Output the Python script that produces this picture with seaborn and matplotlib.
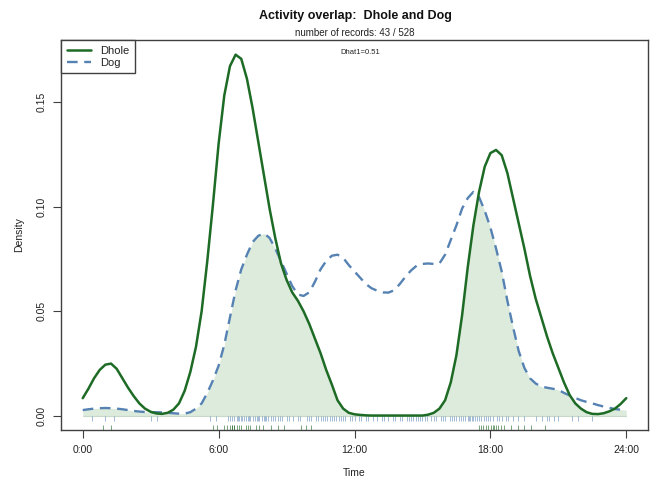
import numpy as np
import pandas as pd
import matplotlib
matplotlib.use("Agg")
import matplotlib.pyplot as plt
import seaborn as sns

# ---- data (quarter-hour grid) ----
hours = [0.0, 0.25, 0.5, 0.75, 1.0, 1.25, 1.5, 1.75, 2.0, 2.25, 2.5, 2.75,
         3.0, 3.25, 3.5, 3.75, 4.0, 4.25, 4.5, 4.75, 5.0, 5.25, 5.5, 5.75,
         6.0, 6.25, 6.5, 6.75, 7.0, 7.25, 7.5, 7.75, 8.0, 8.25, 8.5, 8.75,
         9.0, 9.25, 9.5, 9.75, 10.0, 10.25, 10.5, 10.75, 11.0, 11.25, 11.5, 11.75,
         12.0, 12.25, 12.5, 12.75, 13.0, 13.25, 13.5, 13.75, 14.0, 14.25, 14.5, 14.75,
         15.0, 15.25, 15.5, 15.75, 16.0, 16.25, 16.5, 16.75, 17.0, 17.25, 17.5, 17.75,
         18.0, 18.25, 18.5, 18.75, 19.0, 19.25, 19.5, 19.75, 20.0, 20.25, 20.5, 20.75,
         21.0, 21.25, 21.5, 21.75, 22.0, 22.25, 22.5, 22.75, 23.0, 23.25, 23.5, 23.75,
         24.0]
dhole_density = [0.0085, 0.013, 0.018, 0.022, 0.0245, 0.025, 0.0225, 0.018, 0.0135,
                 0.0095, 0.006, 0.0035, 0.002, 0.0012, 0.001, 0.0015, 0.003, 0.006,
                 0.012, 0.021, 0.033, 0.050, 0.074, 0.101, 0.130, 0.153, 0.167, 0.1725,
                 0.1705, 0.161, 0.147, 0.131, 0.115, 0.099, 0.085, 0.073, 0.065, 0.059,
                 0.055, 0.050, 0.044, 0.037, 0.030, 0.022, 0.015, 0.0075, 0.0035, 0.0015,
                 0.0008, 0.0005, 0.0003, 0.0002, 0.0002, 0.0002, 0.0002, 0.0002, 0.0002,
                 0.0002, 0.0002, 0.0002, 0.0002, 0.0006, 0.0015, 0.0035, 0.0075, 0.016,
                 0.029, 0.048, 0.071, 0.091, 0.107, 0.119, 0.1255, 0.127, 0.1245, 0.116,
                 0.104, 0.092, 0.080, 0.067, 0.056, 0.047, 0.038, 0.030, 0.023, 0.016,
                 0.010, 0.006, 0.0035, 0.0018, 0.0010, 0.0009, 0.0013, 0.0022, 0.0035,
                 0.0057, 0.0085]
dog_density = [0.0028, 0.0032, 0.0035, 0.0037, 0.0038, 0.0037, 0.0035, 0.0032, 0.0028,
               0.0024, 0.0021, 0.0019, 0.0018, 0.0018, 0.0017, 0.0015, 0.0013, 0.0011,
               0.0011, 0.0018, 0.0035, 0.006, 0.011, 0.017, 0.024, 0.034, 0.047, 0.060,
               0.070, 0.077, 0.083, 0.086, 0.0872, 0.085, 0.080, 0.074, 0.068, 0.062,
               0.058, 0.0573, 0.059, 0.064, 0.070, 0.074, 0.0765, 0.077, 0.0755, 0.072,
               0.069, 0.066, 0.063, 0.061, 0.0598, 0.059, 0.0589, 0.060, 0.063, 0.0665,
               0.0695, 0.0718, 0.0726, 0.0728, 0.0726, 0.0728, 0.077, 0.084, 0.091,
               0.099, 0.104, 0.107, 0.1045, 0.098, 0.090, 0.080, 0.069, 0.055, 0.0425,
               0.031, 0.023, 0.018, 0.0155, 0.014, 0.0135, 0.013, 0.0125, 0.011, 0.0098,
               0.0086, 0.0075, 0.0067, 0.006, 0.0052, 0.0045, 0.0039, 0.0033, 0.003,
               0.0028]

dhole_records = [0.91, 1.24, 5.77, 5.92, 6.22, 6.39, 6.61, 6.61, 6.66, 6.7, 7.2, 7.31,
                 7.65, 7.79, 7.94, 8.31, 8.6, 8.9, 9.63, 9.85, 10.1, 6.5, 6.9, 7.0,
                 17.59, 17.69, 17.81, 18.03, 18.18, 18.33, 18.47, 18.92, 19.21, 19.5,
                 19.8, 20.39, 17.9, 18.1, 18.25, 6.8, 7.4, 18.6, 17.5]
dog_records = [0.4, 1.0, 1.4, 3.0, 3.3, 5.6, 5.9,
               6.4, 6.5, 6.6, 6.7, 6.8, 6.85, 6.9, 7.0, 7.05, 7.1, 7.2, 7.3, 7.35, 7.4,
               7.5, 7.6, 7.7, 7.75, 7.8, 7.9, 8.0, 8.05, 8.1, 8.2, 8.3, 8.4, 8.5, 8.6,
               8.7, 8.8, 9.0, 9.1, 9.3, 9.5, 9.6, 9.9, 10.0, 10.1, 10.3, 10.4, 10.5,
               10.6, 10.7, 10.8, 10.9, 11.0, 11.1, 11.2, 11.3, 11.4, 11.5, 11.6, 11.8,
               11.9, 12.0, 12.2, 12.3, 12.5, 12.6, 12.8, 13.0, 13.2, 13.3, 13.5, 13.7,
               13.8, 14.0, 14.1, 14.3, 14.4, 14.5, 14.6, 14.7, 14.8, 14.9, 15.0, 15.1,
               15.2, 15.4, 15.5, 15.6, 15.8, 15.9, 16.0, 16.2, 16.3, 16.4, 16.5, 16.6,
               16.7, 16.8, 16.9, 17.0, 17.05, 17.1, 17.2, 17.25, 17.3, 17.4, 17.5, 17.6,
               17.7, 17.8, 17.9, 18.0, 18.1, 18.3, 18.4, 18.5, 18.7, 18.8, 19.0, 19.2,
               19.5, 20.0, 20.3, 20.5, 20.6, 20.8, 21.0, 21.6, 21.85, 22.5]

x_ticks = [0, 6, 12, 18, 24]
x_tick_labels = ["0:00", "6:00", "12:00", "18:00", "24:00"]
y_ticks = [0.00, 0.05, 0.10, 0.15]
y_tick_labels = ["0.00", "0.05", "0.10", "0.15"]

title = "Activity overlap:  Dhole and Dog"
subtitle = "number of records: 43 / 528"
dhat_text = "Dhat1=0.51"

# ---- styling ----
sns.set_theme(style="white")
plt.rcParams["font.family"] = ["Liberation Sans", "DejaVu Sans"]

col_dhole = "#1d6b25"
col_dog = "#5682b3"
col_fill = "#dcebdc"
col_axis = "#404040"

df = pd.DataFrame({"Time": hours, "Dhole": dhole_density, "Dog": dog_density})
overlap = np.minimum(df["Dhole"].to_numpy(), df["Dog"].to_numpy())

fig = plt.figure(figsize=(6.5, 4.87), dpi=100)
ax = fig.add_axes([61 / 650, 1 - 430 / 487, (648 - 61) / 650, (430 - 40) / 487])

ax.fill_between(df["Time"], 0, overlap, color=col_fill, lw=0, zorder=1)
sns.lineplot(data=df, x="Time", y="Dhole", ax=ax, color=col_dhole, lw=1.8,
             label="Dhole", zorder=3)
sns.lineplot(data=df, x="Time", y="Dog", ax=ax, color=col_dog, lw=1.7,
             label="Dog", zorder=2)
ax.lines[-1].set_dashes([4.5, 2.8])

ax.axhline(0, xmin=(0 + 0.96) / 25.92, xmax=(24 + 0.96) / 25.92, color="#c8d8c8",
           lw=0.8, zorder=1)

ax.vlines(dog_records, -0.0024, 0.0, color=col_dog, lw=0.7, alpha=0.55, zorder=2)
ax.vlines(dhole_records, -0.0067, -0.0044, color=col_dhole, lw=0.7, alpha=0.6, zorder=2)

ax.set_xlim(-0.96, 24.96)
ax.set_ylim(-0.0067, 0.1795)

ax.set_xticks(x_ticks)
ax.set_xticklabels(x_tick_labels, fontsize=7.5, color="#222222")
ax.set_yticks(y_ticks)
ax.set_yticklabels(y_tick_labels, fontsize=7.5, color="#222222", rotation=90,
                   va="center")
ax.tick_params(axis="x", direction="out", length=6, width=0.8, color=col_axis,
               bottom=True, pad=5)
ax.tick_params(axis="y", direction="out", length=6, width=0.8, color=col_axis,
               left=True, pad=4)

for s in ax.spines.values():
    s.set_visible(True)
    s.set_color(col_axis)
    s.set_linewidth(1.0)

ax.set_xlabel("Time", fontsize=7.5, color="#222222", labelpad=9)
ax.set_ylabel("Density", fontsize=7.5, color="#222222", labelpad=9)

leg = ax.legend(loc="upper left", borderaxespad=0, fancybox=False, framealpha=1,
                edgecolor=col_axis, fontsize=8, handlelength=2.2, borderpad=0.5,
                labelspacing=0.2, handletextpad=0.8)
leg.get_frame().set_linewidth(1.0)
for t in leg.get_texts():
    t.set_color("#222222")

fig.text(355 / 650, 1 - 16 / 487, title, ha="center", va="center", fontsize=9,
         fontweight="bold", color="#111111")
fig.text(355 / 650, 1 - 33 / 487, subtitle, ha="center", va="center", fontsize=7,
         color="#222222")
fig.text(360 / 650, 1 - 52 / 487, dhat_text, ha="center", va="center", fontsize=5.5,
         color="#222222")

fig.savefig("out.png", dpi=100)
